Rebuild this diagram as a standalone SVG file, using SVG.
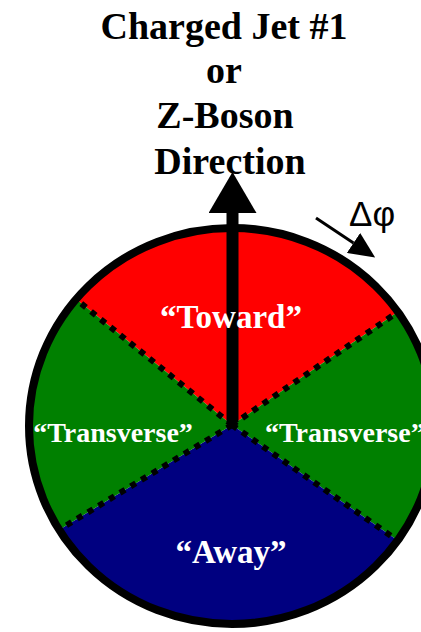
<svg xmlns="http://www.w3.org/2000/svg" width="421" height="632" viewBox="0 0 421 632">
  <style>
    .title { font-family: "Liberation Serif", "Times New Roman", serif; font-weight: bold; font-size: 38px; fill: #000; text-anchor: middle; }
    .label { font-family: "Liberation Serif", "Times New Roman", serif; font-weight: bold; fill: #fff; }
    .divider { stroke: #000; stroke-width: 6; stroke-dasharray: 6 6.5; fill: none; }
    .rim { fill: none; stroke: #000; stroke-width: 8; }
  </style>
  <defs>
    <marker id="bigHead" markerUnits="userSpaceOnUse" markerWidth="41" markerHeight="48" viewBox="0 0 41 48" refX="0" refY="24" orient="auto">
      <path d="M0,0 L41,24 L0,48 Z" fill="#000"/>
    </marker>
    <marker id="smallHead" markerUnits="userSpaceOnUse" markerWidth="26" markerHeight="24" viewBox="0 0 26 24" refX="0" refY="12" orient="auto">
      <path d="M0,0 L26,12 L0,24 Z" fill="#000"/>
    </marker>
  </defs>

  <g id="title">
    <text class="title" x="224" y="39">Charged Jet #1</text>
    <text class="title" x="224" y="83">or</text>
    <text class="title" x="225" y="128">Z-Boson</text>
    <text class="title" x="230" y="174">Direction</text>
  </g>

  <g id="toward">
    <path d="M232,425 L76,299 A203,198 0 0,1 398.4,311.6 Z" fill="#ff0000"/>
  </g>
  <g id="transverse-right">
    <path d="M232,425 L398.4,311.6 A203,198 0 0,1 397.1,540.1 Z" fill="#008000"/>
  </g>
  <g id="away">
    <path d="M232,425 L397.1,540.1 A203,198 0 0,1 59.6,529.5 Z" fill="#000080"/>
  </g>
  <g id="transverse-left">
    <path d="M232,425 L59.6,529.5 A203,198 0 0,1 76,299 Z" fill="#008000"/>
  </g>

  <g id="dividers">
    <line class="divider" x1="232" y1="425" x2="78" y2="301"/>
    <line class="divider" x1="232" y1="425" x2="395" y2="314"/>
    <line class="divider" x1="232" y1="425" x2="62" y2="528"/>
    <line class="divider" x1="232" y1="425" x2="394" y2="538"/>
  </g>

  <g id="rim">
    <ellipse class="rim" cx="232" cy="426" rx="203" ry="198"/>
  </g>

  <g id="connectors">
    <line x1="232.5" y1="422" x2="232.5" y2="213" stroke="#000" stroke-width="12" marker-end="url(#bigHead)"/>
    <line x1="316" y1="218" x2="353.5" y2="243" stroke="#000" stroke-width="3" marker-end="url(#smallHead)"/>
  </g>

  <g id="labels">
    <text class="label" x="231" y="328" font-size="33" text-anchor="middle">“Toward”</text>
    <text class="label" x="113" y="442" font-size="28" text-anchor="middle">“Transverse”</text>
    <text class="label" x="265" y="442" font-size="28">“Transverse”</text>
    <text class="label" x="231" y="563" font-size="33" text-anchor="middle">“Away”</text>
  </g>

  <g id="delta-phi">
    <text x="349" y="226" font-family="Liberation Sans, Arial, sans-serif" font-size="35" fill="#000">Δφ</text>
  </g>
</svg>
